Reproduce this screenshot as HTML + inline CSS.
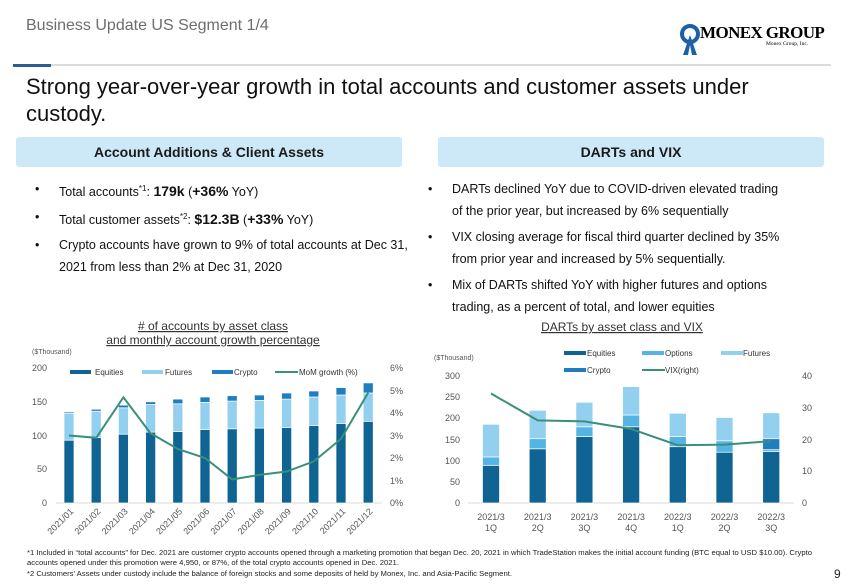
<!DOCTYPE html>
<html><head><meta charset="utf-8"><style>
body{margin:0;width:850px;height:587px;background:#fff;font-family:"Liberation Sans",sans-serif;position:relative;overflow:hidden;color:#000}
.a{position:absolute;white-space:nowrap}
.box{position:absolute;background:#cde8f7;border-radius:3px;height:30px;line-height:30px;text-align:center;font-weight:bold;font-size:14px;color:#1a1a1a}
.b{position:absolute;font-size:12.5px;color:#111;line-height:22px}
.b div{position:relative;padding-left:24px}
.b div:before{content:"•";position:absolute;left:0}
</style></head><body>
<div class="a" style="left:26px;top:17px;font-size:16px;color:#6d6d6d">Business Update US Segment 1/4</div>
<div class="a" style="left:677px;top:23px;width:30px;height:35px">
<svg width="30" height="35"><circle cx="13" cy="11" r="8" fill="none" stroke="#1d5fa8" stroke-width="4"/><path d="M13 12 L6 32 L11 32 L13 22 L15 32 L20 32 Z" fill="#1d5fa8"/></svg></div>
<div class="a" style="left:700px;top:23px;font-family:'Liberation Serif',serif;font-weight:bold;font-size:17px;letter-spacing:-0.6px">MONEX GROUP</div>
<div class="a" style="left:766px;top:41px;font-family:'Liberation Serif',serif;font-size:5.5px">Monex Group, Inc.</div>
<div class="a" style="left:13px;top:64px;width:818px;height:2px;background:#dcdcdc"></div>
<div class="a" style="left:13px;top:64px;width:38px;height:3px;background:#2b5e94"></div>
<div class="a" style="left:26px;top:73px;font-size:22px;line-height:27px;color:#111;white-space:normal;width:790px">Strong year-over-year growth in total accounts and customer assets under custody.</div>
<div class="box" style="left:16px;top:137px;width:386px">Account Additions &amp; Client Assets</div>
<div class="box" style="left:438px;top:137px;width:386px">DARTs and VIX</div>
<div class="b" style="left:35px;top:178px;width:385px">
<div>Total accounts<sup style="font-size:8px">*1</sup>: <b style="font-size:14px">179k</b> (<b style="font-size:14px">+36%</b> YoY)</div>
<div style="margin-top:3px">Total customer assets<sup style="font-size:8px">*2</sup>: <b style="font-size:14px">$12.3B</b> (<b style="font-size:14px">+33%</b> YoY)</div>
<div style="margin-top:3px;white-space:normal">Crypto accounts have grown to 9% of total accounts at Dec 31, 2021 from less than 2% at Dec 31, 2020</div>
</div>
<div class="b" style="left:428px;top:178px;width:402px">
<div style="white-space:normal">DARTs declined YoY due to COVID-driven elevated trading<br>of the prior year, but increased by 6% sequentially</div>
<div style="white-space:normal;margin-top:4px">VIX closing average for fiscal third quarter declined by 35%<br>from prior year and increased by 5% sequentially.</div>
<div style="white-space:normal;margin-top:4px">Mix of DARTs shifted YoY with higher futures and options<br>trading, as a percent of total, and lower equities</div>
</div>
<svg class="a" style="left:0;top:0" width="850" height="587" font-family="Liberation Sans,sans-serif">
<g font-size="12" fill="#333" text-anchor="middle" text-decoration="underline">
<text x="213" y="330">
# of accounts by asset class</text>
<text x="213" y="344">and monthly account growth percentage</text>
<text x="622" y="331">DARTs by asset class and VIX</text></g>
<g font-size="7" fill="#555"><text x="32" y="354">($Thousand)</text><text x="434" y="360">($Thousand)</text></g>
<line x1="56" y1="503" x2="382" y2="503" stroke="#d9d9d9"/>
<g font-size="9" fill="#555" text-anchor="end">
<text x="47" y="506">0</text><text x="47" y="472">50</text><text x="47" y="439">100</text><text x="47" y="405">150</text><text x="47" y="371">200</text></g>
<g font-size="9" fill="#555"><text x="390" y="506">0%</text><text x="390" y="484">1%</text><text x="390" y="461">2%</text><text x="390" y="439">3%</text><text x="390" y="416">4%</text><text x="390" y="394">5%</text><text x="390" y="371">6%</text></g>
<g stroke="#fff" stroke-width="0.7">
<g fill="#0f6494">
<rect x="64" y="440.2" width="10" height="62.8"/><rect x="91.2" y="437.5" width="10" height="65.5"/><rect x="118.4" y="434.2" width="10" height="68.8"/><rect x="145.6" y="432.1" width="10" height="70.9"/><rect x="172.8" y="431.5" width="10" height="71.5"/><rect x="200" y="429.4" width="10" height="73.6"/><rect x="227.2" y="428.8" width="10" height="74.2"/><rect x="254.4" y="428.1" width="10" height="74.9"/><rect x="281.6" y="427.4" width="10" height="75.6"/><rect x="308.8" y="425.4" width="10" height="77.6"/><rect x="336" y="423.4" width="10" height="79.6"/><rect x="363.2" y="421.3" width="10" height="81.7"/></g>
<g fill="#93d0f0">
<rect x="64" y="413.2" width="10" height="27"/><rect x="91.2" y="411.2" width="10" height="26.3"/><rect x="118.4" y="407.8" width="10" height="26.4"/><rect x="145.6" y="404.5" width="10" height="27.6"/><rect x="172.8" y="403.8" width="10" height="27.7"/><rect x="200" y="402.4" width="10" height="27"/><rect x="227.2" y="401.1" width="10" height="27.7"/><rect x="254.4" y="400.4" width="10" height="27.7"/><rect x="281.6" y="399.1" width="10" height="28.3"/><rect x="308.8" y="397" width="10" height="28.4"/><rect x="336" y="395" width="10" height="28.4"/><rect x="363.2" y="393" width="10" height="28.3"/></g>
<g fill="#1f7ec0">
<rect x="64" y="411.9" width="10" height="1.3"/><rect x="91.2" y="409.2" width="10" height="2"/><rect x="118.4" y="405.1" width="10" height="2.7"/><rect x="145.6" y="401.8" width="10" height="2.7"/><rect x="172.8" y="399.1" width="10" height="4.7"/><rect x="200" y="397" width="10" height="5.4"/><rect x="227.2" y="395.7" width="10" height="5.4"/><rect x="254.4" y="395" width="10" height="5.4"/><rect x="281.6" y="393" width="10" height="6.1"/><rect x="308.8" y="391" width="10" height="6"/><rect x="336" y="387.6" width="10" height="7.4"/><rect x="363.2" y="382.9" width="10" height="10.1"/></g></g>
<polyline fill="none" stroke="#3a8f7b" stroke-width="2" points="69,435.5 96.2,437.8 123.4,397.3 150.6,433.3 177.8,449 205,458 232.2,479.4 259.4,474.9 286.6,471.5 313.8,461.4 341,438.9 368.2,392.8"/>
<g font-size="8" fill="#333">
<rect x="70" y="370" width="21" height="4" fill="#0f6494"/><text x="95" y="375">Equities</text>
<rect x="142" y="370" width="21" height="4" fill="#93d0f0"/><text x="165" y="375">Futures</text>
<rect x="212" y="370" width="21" height="4" fill="#1f7ec0"/><text x="234" y="375">Crypto</text>
<line x1="275" y1="372" x2="298" y2="372" stroke="#3a8f7b" stroke-width="2"/><text x="299" y="375">MoM growth (%)</text></g>
<g font-size="9" fill="#555" text-anchor="end">
<text transform="translate(74,512) rotate(-45)">2021/01</text><text transform="translate(101.2,512) rotate(-45)">2021/02</text><text transform="translate(128.4,512) rotate(-45)">2021/03</text><text transform="translate(155.6,512) rotate(-45)">2021/04</text><text transform="translate(182.8,512) rotate(-45)">2021/05</text><text transform="translate(210,512) rotate(-45)">2021/06</text><text transform="translate(237.2,512) rotate(-45)">2021/07</text><text transform="translate(264.4,512) rotate(-45)">2021/08</text><text transform="translate(291.6,512) rotate(-45)">2021/09</text><text transform="translate(318.8,512) rotate(-45)">2021/10</text><text transform="translate(346,512) rotate(-45)">2021/11</text><text transform="translate(373.2,512) rotate(-45)">2021/12</text></g>
<line x1="468" y1="503" x2="794" y2="503" stroke="#d9d9d9"/>
<g font-size="9" fill="#555" text-anchor="end">
<text x="460" y="506">0</text><text x="460" y="485">50</text><text x="460" y="464">100</text><text x="460" y="443">150</text><text x="460" y="421">200</text><text x="460" y="400">250</text><text x="460" y="379">300</text></g>
<g font-size="9" fill="#555"><text x="802" y="506">0</text><text x="802" y="474">10</text><text x="802" y="443">20</text><text x="802" y="411">30</text><text x="802" y="379">40</text></g>
<g stroke="#fff" stroke-width="0.7">
<g fill="#0f6494"><rect x="482.5" y="465.3" width="17" height="37.7"/><rect x="529.2" y="448.8" width="17" height="54.2"/><rect x="575.9" y="436.5" width="17" height="66.5"/><rect x="622.6" y="426.8" width="17" height="76.2"/><rect x="669.3" y="446.7" width="17" height="56.3"/><rect x="716" y="452.2" width="17" height="50.8"/><rect x="762.7" y="451.4" width="17" height="51.6"/></g>
<g fill="#54b4e4"><rect x="482.5" y="456.9" width="17" height="8.4"/><rect x="529.2" y="438.7" width="17" height="10.1"/><rect x="575.9" y="426.8" width="17" height="9.7"/><rect x="622.6" y="415" width="17" height="11.8"/><rect x="669.3" y="436.5" width="17" height="10.2"/><rect x="716" y="440.8" width="17" height="11.4"/><rect x="762.7" y="449.7" width="17" height="1.7"/></g>
<g fill="#1f7ec0"><rect x="762.7" y="438.7" width="17" height="11"/></g>
<g fill="#93d0f0"><rect x="482.5" y="424.3" width="17" height="32.6"/><rect x="529.2" y="410.3" width="17" height="28.4"/><rect x="575.9" y="402.3" width="17" height="24.5"/><rect x="622.6" y="386.6" width="17" height="28.4"/><rect x="669.3" y="413.3" width="17" height="23.2"/><rect x="716" y="417.5" width="17" height="23.3"/><rect x="762.7" y="412.8" width="17" height="25.9"/></g></g>
<polyline fill="none" stroke="#3a8f7b" stroke-width="2" points="491,393.5 537.7,420.4 584.4,421.4 631.1,429 677.8,445.2 724.5,444.6 771.2,441.1"/>
<g font-size="8" fill="#333">
<rect x="564" y="351" width="22" height="4" fill="#0f6494"/><text x="587" y="356">Equities</text>
<rect x="642" y="351" width="22" height="4" fill="#54b4e4"/><text x="665" y="356">Options</text>
<rect x="721" y="351" width="22" height="4" fill="#93d0f0"/><text x="743" y="356">Futures</text>
<rect x="564" y="368" width="22" height="4" fill="#1f7ec0"/><text x="587" y="373">Crypto</text>
<line x1="642" y1="370" x2="665" y2="370" stroke="#3a8f7b" stroke-width="2"/><text x="665" y="373">VIX(right)</text></g>
<g font-size="9" fill="#555" text-anchor="middle">
<text x="491" y="520">2021/3</text><text x="491" y="531">1Q</text>
<text x="537.7" y="520">2021/3</text><text x="537.7" y="531">2Q</text>
<text x="584.4" y="520">2021/3</text><text x="584.4" y="531">3Q</text>
<text x="631.1" y="520">2021/3</text><text x="631.1" y="531">4Q</text>
<text x="677.8" y="520">2022/3</text><text x="677.8" y="531">1Q</text>
<text x="724.5" y="520">2022/3</text><text x="724.5" y="531">2Q</text>
<text x="771.2" y="520">2022/3</text><text x="771.2" y="531">3Q</text></g>
<g font-size="7" fill="#222">
<text x="27" y="555" textLength="785" lengthAdjust="spacingAndGlyphs">*1 Included in “total accounts” for Dec. 2021 are customer crypto accounts opened through a marketing promotion that began Dec. 20, 2021 in which TradeStation makes the initial account funding (BTC equal to USD $10.00). Crypto</text>
<text x="27" y="565" textLength="372" lengthAdjust="spacingAndGlyphs">accounts opened under this promotion were 4,950, or 87%, of the total crypto accounts opened in Dec. 2021.</text>
<text x="27" y="576" textLength="485" lengthAdjust="spacingAndGlyphs">*2 Customers’ Assets under custody include the balance of foreign stocks and some deposits of held by Monex, Inc. and Asia-Pacific Segment.</text></g>
<text x="834" y="578" font-size="12" fill="#222">9</text>
</svg>
</body></html>
